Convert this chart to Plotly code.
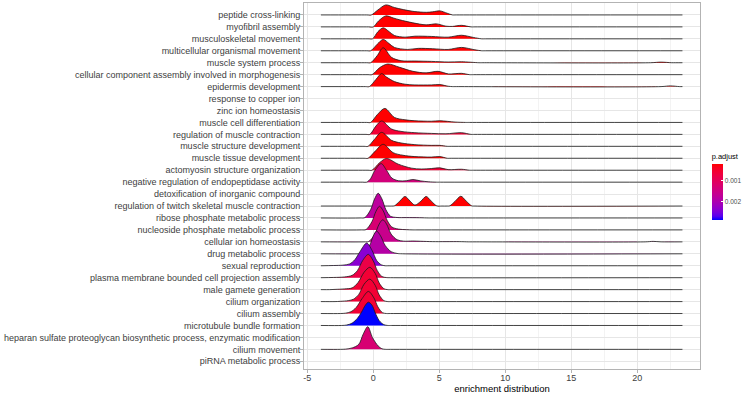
import plotly.graph_objects as go

# ---------------- data ----------------
terms = [
    "peptide cross-linking",
    "myofibril assembly",
    "musculoskeletal movement",
    "multicellular organismal movement",
    "muscle system process",
    "cellular component assembly involved in morphogenesis",
    "epidermis development",
    "response to copper ion",
    "zinc ion homeostasis",
    "muscle cell differentiation",
    "regulation of muscle contraction",
    "muscle structure development",
    "muscle tissue development",
    "actomyosin structure organization",
    "negative regulation of endopeptidase activity",
    "detoxification of inorganic compound",
    "regulation of twitch skeletal muscle contraction",
    "ribose phosphate metabolic process",
    "nucleoside phosphate metabolic process",
    "cellular ion homeostasis",
    "drug metabolic process",
    "sexual reproduction",
    "plasma membrane bounded cell projection assembly",
    "male gamete generation",
    "cilium organization",
    "cilium assembly",
    "microtubule bundle formation",
    "heparan sulfate proteoglycan biosynthetic process, enzymatic modification",
    "cilium movement",
    "piRNA metabolic process",
]

p_adjust = [
    0.00023, 0.00023, 0.00023, 0.00023, 0.00023, 0.00023, 0.00023, None, None,
    0.00023, 0.0006, 0.00023, 0.00023, 0.0006, 0.0014, None, 0.00023,
    0.0018, 0.0013, 0.0016, 0.0019, 0.0024, 0.0008, 0.0006, 0.0006, 0.0006,
    0.0029, None, 0.0013, None,
]

x_min_data = -3.97
x_max_data = 23.42

# density knots (enrichment value, ridge height in row units)
ridge_x = [
    [-0.5, -0.15, 0.35, 0.95, 1.6, 2.27, 3.15, 4.03, 4.5, 5.04, 5.6, 6.0, 6.3],
    [-0.35, 0.0, 0.4, 0.95, 1.5, 2.0, 3.0, 4.0, 4.8, 5.5, 6.0, 6.68, 7.4, 7.7],
    [-0.4, -0.06, 0.35, 0.75, 1.2, 1.6, 2.4, 3.15, 4.4, 5.67, 6.68, 7.57, 8.2, 8.5],
    [-0.5, -0.2, 0.3, 0.75, 1.2, 1.6, 2.6, 3.4, 4.5, 5.67, 6.68, 7.7, 8.2, 8.5],
    [-0.5, -0.2, 0.3, 0.75, 1.38, 2.1, 3.15, 4.4, 5.67, 6.68, 8.0, 8.3, 21.0, 21.8, 22.6, 22.9],
    [-0.4, -0.1, 0.5, 1.1, 2.0, 3.0, 4.0, 4.9, 5.7, 6.68, 7.3, 7.6],
    [-0.6, -0.3, 0.2, 0.63, 1.0, 1.6, 2.4, 3.15, 4.4, 5.04, 5.67, 6.0, 6.3, 21.8, 22.5, 23.2],
    [],
    [],
    [-0.5, -0.2, 0.3, 0.88, 1.6, 2.4, 3.15, 4.4, 5.04, 6.2, 7.0, 7.3],
    [-0.55, -0.26, 0.2, 0.63, 1.38, 2.1, 3.15, 4.4, 5.5, 6.68, 7.4, 7.7],
    [-0.7, -0.4, 0.1, 0.63, 1.38, 2.1, 3.15, 4.4, 5.04, 5.6, 5.9],
    [-0.7, -0.4, 0.15, 0.75, 1.5, 2.25, 3.15, 4.4, 5.04, 5.6, 5.9],
    [-0.4, -0.1, 0.5, 1.0, 1.9, 2.9, 3.65, 4.4, 5.04, 5.67, 6.68, 7.3, 7.6],
    [-0.8, -0.5, -0.2, 0.1, 0.6, 1.0, 1.4, 1.9, 2.5, 3.0, 3.6, 4.2, 4.8, 5.1],
    [],
    [1.1, 1.4, 1.6, 2.0, 2.4, 2.8, 3.15, 3.6, 4.0, 4.4, 4.8, 5.2, 5.6, 5.8, 6.2, 6.63, 7.05, 7.45, 7.7],
    [-1.0, -0.64, -0.2, 0.1, 0.37, 0.65, 0.95, 1.3, 1.8, 2.5, 3.5, 4.2, 4.5],
    [-0.9, -0.55, -0.1, 0.2, 0.47, 0.75, 1.05, 1.4, 1.9, 2.5, 3.0, 3.3],
    [-0.7, -0.35, 0.1, 0.45, 0.72, 1.0, 1.35, 1.8, 2.3, 3.0, 3.6, 4.5, 6.5, 7.2, 7.5, 20.6, 21.2, 21.8],
    [-1.1, -0.8, -0.3, 0.0, 0.25, 0.55, 0.9, 1.35, 1.8, 2.2],
    [-3.97, -3.0, -2.3, -1.8, -1.4, -1.0, -0.5, -0.1, 0.25, 0.6, 0.9, 1.2],
    [-3.97, -3.0, -2.2, -1.6, -1.2, -0.8, -0.38, 0.0, 0.3, 0.65, 1.0, 1.3],
    [-3.3, -2.9, -2.2, -1.6, -1.15, -0.7, -0.26, 0.15, 0.45, 0.8, 1.1, 1.4],
    [-2.9, -2.5, -1.9, -1.5, -1.1, -0.7, -0.26, 0.15, 0.45, 0.8, 1.1, 1.4],
    [-2.5, -2.1, -1.7, -1.3, -0.85, -0.37, 0.05, 0.35, 0.7, 1.0, 1.3],
    [-2.4, -2.0, -1.6, -1.2, -0.9, -0.6, -0.37, -0.1, 0.15, 0.45, 0.8, 1.1, 1.4],
    [],
    [-2.5, -2.1, -1.6, -1.1, -0.77, -0.42, -0.06, 0.37, 0.65, 0.95, 1.3],
    [],
]

ridge_h = [
    [0, 0, 0.42, 0.84, 0.62, 0.45, 0.28, 0.22, 0.26, 0.34, 0.14, 0, 0],
    [0, 0, 0.5, 0.92, 0.75, 0.59, 0.34, 0.17, 0.25, 0.06, 0.04, 0.13, 0, 0],
    [0, 0, 0.6, 0.92, 0.6, 0.28, 0.14, 0.22, 0.2, 0.14, 0.3, 0.12, 0, 0],
    [0, 0, 0.55, 0.95, 0.6, 0.28, 0.11, 0.2, 0.17, 0.11, 0.28, 0.08, 0, 0],
    [0, 0, 0.6, 1.25, 0.45, 0.17, 0.14, 0.11, 0.06, 0.08, 0, 0, 0, 0.05, 0, 0],
    [0, 0, 0.6, 0.89, 0.61, 0.28, 0.15, 0.28, 0.06, 0.11, 0, 0],
    [0, 0, 0.6, 1.09, 0.8, 0.42, 0.2, 0.14, 0.14, 0.17, 0.03, 0, 0, 0, 0.06, 0],
    [],
    [],
    [0, 0, 0.65, 1.17, 0.42, 0.22, 0.14, 0.1, 0.14, 0.03, 0, 0],
    [0, 0, 0.7, 1.12, 0.45, 0.25, 0.14, 0.08, 0.05, 0.14, 0, 0],
    [0, 0, 0.6, 1.17, 0.5, 0.28, 0.14, 0.08, 0.08, 0, 0],
    [0, 0, 0.6, 1.17, 0.47, 0.25, 0.14, 0.1, 0.14, 0, 0],
    [0, 0, 0.65, 0.98, 0.5, 0.17, 0.1, 0.14, 0.2, 0.05, 0.08, 0, 0],
    [0, 0, 0.3, 0.95, 1.55, 1.0, 0.35, 0.12, 0.12, 0.22, 0.1, 0.03, 0, 0],
    [],
    [0, 0, 0.02, 0.4, 0.8, 0.4, 0.08, 0.4, 0.8, 0.4, 0.02, 0, 0, 0.02, 0.4, 0.82, 0.4, 0.02, 0],
    [0, 0.03, 0.7, 1.6, 2.07, 1.6, 0.7, 0.15, 0.04, 0.03, 0.02, 0, 0],
    [0, 0.03, 0.7, 1.55, 1.98, 1.6, 0.8, 0.25, 0.07, 0.02, 0, 0],
    [0, 0.03, 0.6, 1.5, 1.85, 1.5, 0.65, 0.18, 0.06, 0.07, 0.05, 0.02, 0.02, 0, 0, 0, 0.04, 0],
    [0, 0.03, 0.65, 1.5, 1.9, 1.5, 0.7, 0.18, 0.03, 0],
    [0, 0.02, 0.05, 0.15, 0.5, 1.2, 1.9, 1.3, 0.45, 0.08, 0, 0],
    [0, 0.02, 0.06, 0.2, 0.6, 1.45, 1.95, 1.4, 0.6, 0.1, 0.01, 0],
    [0, 0.02, 0.06, 0.15, 0.6, 1.45, 1.87, 1.35, 0.55, 0.08, 0, 0],
    [0, 0.02, 0.08, 0.2, 0.6, 1.45, 1.88, 1.35, 0.55, 0.08, 0, 0],
    [0, 0.03, 0.15, 0.5, 1.25, 1.85, 1.3, 0.55, 0.07, 0, 0],
    [0, 0.04, 0.2, 0.6, 1.1, 1.7, 1.95, 1.7, 1.05, 0.4, 0.07, 0, 0],
    [],
    [0, 0.02, 0.12, 0.42, 1.26, 1.9, 0.98, 0.28, 0.05, 0, 0],
    [],
]

x_ticks = [-5, 0, 5, 10, 15, 20]
x_minor_ticks = [-2.5, 2.5, 7.5, 12.5, 17.5, 22.5]
legend_ticks = [0.001, 0.002]

# ---------------- colour scale (red -> blue in CIELAB, like ggplot) ----------------
def _srgb_to_lab(rgb):
    def lin(c):
        c = c / 255.0
        return c / 12.92 if c <= 0.04045 else ((c + 0.055) / 1.055) ** 2.4
    r, g, b = (lin(c) for c in rgb)
    X = (0.4124 * r + 0.3576 * g + 0.1805 * b) / 0.95047
    Y = (0.2126 * r + 0.7152 * g + 0.0722 * b)
    Z = (0.0193 * r + 0.1192 * g + 0.9505 * b) / 1.08883
    f = lambda t: t ** (1 / 3) if t > 0.008856 else 7.787 * t + 16 / 116
    fx, fy, fz = f(X), f(Y), f(Z)
    return (116 * fy - 16, 500 * (fx - fy), 200 * (fy - fz))


def _lab_to_hex(lab):
    L, a, b = lab
    fy = (L + 16) / 116
    fx = fy + a / 500
    fz = fy - b / 200
    finv = lambda t: t ** 3 if t ** 3 > 0.008856 else (t - 16 / 116) / 7.787
    X, Y, Z = finv(fx) * 0.95047, finv(fy), finv(fz) * 1.08883
    r = 3.2406 * X - 1.5372 * Y - 0.4986 * Z
    g = -0.9689 * X + 1.8758 * Y + 0.0415 * Z
    bb = 0.0557 * X - 0.2040 * Y + 1.0570 * Z

    def enc(c):
        c = min(max(c, 0.0), 1.0)
        c = 12.92 * c if c <= 0.0031308 else 1.055 * c ** (1 / 2.4) - 0.055
        return int(round(min(max(c, 0.0), 1.0) * 255))
    return "#%02X%02X%02X" % (enc(r), enc(g), enc(bb))


LAB_LOW = _srgb_to_lab((255, 0, 0))    # low p.adjust -> red
LAB_HIGH = _srgb_to_lab((0, 0, 255))   # high p.adjust -> blue


def grad(t):
    return _lab_to_hex(tuple(l0 + (l1 - l0) * t for l0, l1 in zip(LAB_LOW, LAB_HIGH)))


valid_p = [p for p in p_adjust if p is not None]
p_lo, p_hi = min(valid_p), max(valid_p)


def fill_for(p):
    return grad((p - p_lo) / (p_hi - p_lo))


# colourbar uses -p so that small p.adjust (red) sits on top
n_stops = 16
colorscale = [[i / (n_stops - 1), grad(1 - i / (n_stops - 1))] for i in range(n_stops)]

# ---------------- figure ----------------
n = len(terms)
ypos = [n - i for i in range(n)]  # top term at highest y

fig = go.Figure()

for i, term in enumerate(terms):
    xs, hs = ridge_x[i], ridge_h[i]
    if not xs:
        continue
    xs = list(xs)
    hs = list(hs)
    if xs[0] > x_min_data:
        xs = [x_min_data] + xs
        hs = [0] + hs
    if xs[-1] < x_max_data:
        xs = xs + [x_max_data]
        hs = hs + [0]
    base = ypos[i]
    fig.add_trace(go.Scatter(
        x=[x_min_data, x_max_data], y=[base, base], mode="lines",
        line=dict(width=0, color="rgba(0,0,0,0)"), hoverinfo="skip", showlegend=False))
    fig.add_trace(go.Scatter(
        x=xs, y=[base + h for h in hs], mode="lines",
        line=dict(color="#1a1a1a", width=0.8, shape="spline", smoothing=0.9),
        fill="tonexty", fillcolor=fill_for(p_adjust[i]),
        name=term, hoverinfo="name", showlegend=False))

# invisible markers carrying the colourbar
cb_vals = [-p for p in valid_p]
fig.add_trace(go.Scatter(
    x=[x_min_data] * len(cb_vals), y=[ypos[i] for i, p in enumerate(p_adjust) if p is not None],
    mode="markers", hoverinfo="skip", showlegend=False,
    marker=dict(size=0.1, opacity=0, color=cb_vals, cmin=-p_hi, cmax=-p_lo,
                colorscale=colorscale, showscale=True,
                colorbar=dict(
                    title=dict(text="p.adjust", side="top",
                               font=dict(size=7.5, color="#000000")),
                    thickness=11, thicknessmode="pixels",
                    len=70, lenmode="pixels",
                    x=1.0295, xanchor="left", xpad=0,
                    y=0.598, yanchor="top", ypad=0,
                    outlinewidth=0,
                    tickvals=[-v for v in legend_ticks],
                    ticktext=[str(v) for v in legend_ticks],
                    ticks="inside", ticklen=2, tickcolor="white", tickwidth=1,
                    tickfont=dict(size=6.5, color="#4D4D4D"),
                ))))

FONT = "Liberation Sans, Arial, Helvetica, sans-serif"

fig.update_layout(
    width=750, height=396, autosize=False,
    margin=dict(l=304, r=50, t=3, b=27),
    paper_bgcolor="white", plot_bgcolor="white",
    font=dict(family=FONT, size=9, color="#404040"),
    showlegend=False,
)

fig.update_xaxes(
    range=[-5.25, 24.75], tickvals=x_ticks, ticktext=[str(v) for v in x_ticks],
    showgrid=True, gridcolor="#E6E6E6", gridwidth=0.8, zeroline=False,
    minor=dict(tickvals=x_minor_ticks, showgrid=True, gridcolor="#F3F3F3", gridwidth=0.5),
    showline=True, mirror=True, linecolor="#B3B3B3", linewidth=1,
    ticks="outside", ticklen=3, tickcolor="#B3B3B3", tickwidth=0.6,
    ticklabelstandoff=-3,
    tickfont=dict(size=9, color="#404040"),
    title=dict(text="enrichment distribution", font=dict(size=9.5, color="#000000"), standoff=3),
    automargin=False,
)

fig.update_yaxes(
    range=[0.355, 31.0], tickvals=ypos, ticktext=terms,
    showgrid=True, gridcolor="#E6E6E6", gridwidth=0.8, zeroline=False,
    showline=True, mirror=True, linecolor="#B3B3B3", linewidth=1,
    ticks="outside", ticklen=3, tickcolor="#B3B3B3", tickwidth=0.6,
    ticklabelstandoff=-2,
    tickfont=dict(size=9, color="#404040"),
    automargin=False,
)

fig.write_html(
    "out.html",
    config={"displayModeBar": False},
    post_script="document.body.style.margin='0px';document.body.style.padding='0px';",
)
